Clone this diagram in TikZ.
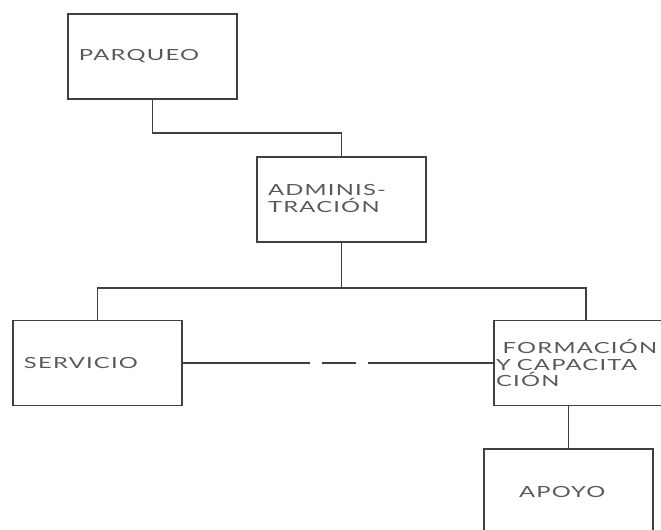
\documentclass[tikz,border=0pt]{standalone}
\usepackage{fontspec}
\setmainfont{Lato}[FakeStretch=1.55, LetterSpace=8]
\usepackage{tikz}
\usepackage{xcolor}
\usetikzlibrary{positioning}

\begin{document}
\begin{tikzpicture}[node distance=5cm, on grid, line width=1.2pt,
        unit/.style={rectangle, draw=black!75, line width=1.2pt, minimum width=126.75pt, minimum height=63.75pt, inner xsep=8.25pt, inner ysep=0pt, text width=110.25pt, align=left, text=black!65, font=\fontsize{11.5}{12.5}\selectfont},
        link/.style={draw=black!75, line width=1.2pt},
        gapline/.style={link, dash pattern=on 95.25pt off 9pt on 25.5pt off 9pt on 96pt}]

        \useasboundingbox (-114.375pt,42.375pt) rectangle ++(495.75pt,-396.75pt);
        \clip (-114.375pt,42.375pt) rectangle ++(495.75pt,-396.75pt);

        \node[unit] (parqueo) at (0,0) {PARQUEO};

        \node[unit, below right=107.25pt and 141.75pt of parqueo] (admin) {\\[-6pt]ADMINIS-\\TRACIÓN};

        \node[unit, below left=122.6pt and 183pt of admin] (servicio) {SERVICIO};

        \node[unit, right=366.4pt of servicio, minimum width=138pt, inner xsep=1.5pt, text width=135pt] (formacion) {\hspace*{5pt}FORMACIÓN\\Y\hspace*{4.5pt}CAPACITA\\CIÓN};

        \node[unit, below left=96.4pt and 13.1pt of formacion] (apoyo) {\hspace*{18pt}APOYO};

        \draw[link] (parqueo.south) -- ++(0,-24.75pt) -| (admin.north);
        \draw[link] (admin.south) -- ++(0,-33.75pt) coordinate (bus);
        \draw[link] (servicio.north) |- (bus) -| (formacion.north);
        \draw[gapline] (servicio) -- (formacion);
        \draw[link] (apoyo.north) -- (apoyo.north |- formacion.south);

\end{tikzpicture}
\end{document}
